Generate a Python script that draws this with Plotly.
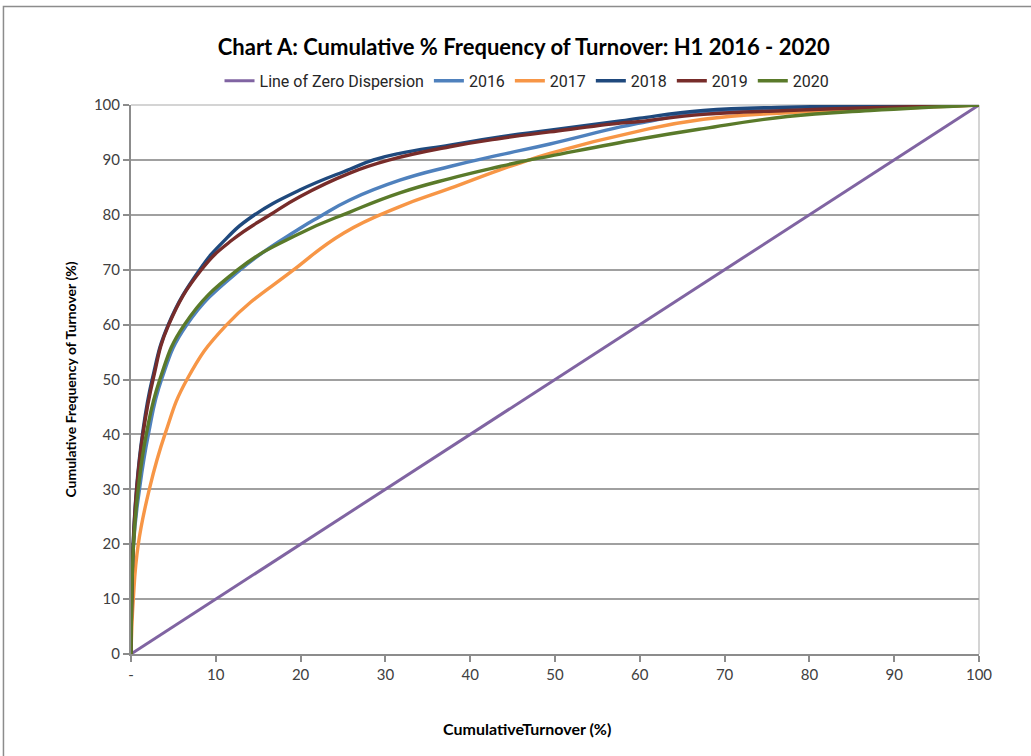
import plotly.graph_objects as go

# Cumulative % of turnover (x) vs cumulative % frequency (y), H1 of each year
zero_x = [0, 10, 20, 30, 40, 50, 60, 70, 80, 90, 100]
zero_y = [0, 10, 20, 30, 40, 50, 60, 70, 80, 90, 100]

x_2016 = [0, 0.3, 1.0, 2.05, 3.6, 6.6, 12.9, 19.9, 22.3, 25.8, 31.7, 37.6, 43.5, 49.4, 57.7, 60, 67.5, 77.4, 87.2, 100]
y_2016 = [0, 20, 30, 40, 50, 60, 70, 77.5, 79.7, 82.7, 86.3, 88.8, 90.9, 92.9, 96.0, 96.7, 98.7, 99.4, 99.7, 100]

x_2017 = [0, 0.27, 0.86, 2.16, 4.0, 6.6, 11.3, 19.2, 25.1, 31.7, 37.6, 43.5, 47, 49.4, 60, 67.5, 77.4, 87.2, 100]
y_2017 = [0, 10, 20, 30, 40, 50, 60, 70, 76.7, 81.5, 84.8, 88.2, 90.0, 91.2, 95.3, 97.4, 98.6, 99.2, 100]

x_2018 = [0, 0.25, 0.65, 1.35, 2.5, 4.4, 8.1, 11.0, 14.2, 19.9, 25.8, 28.6, 31.7, 37.6, 43.5, 49.4, 57.7, 60, 67.5, 77.4, 87.2, 100]
y_2018 = [0, 20, 30, 40, 50, 60, 70, 75.3, 79.6, 84.5, 88.3, 90, 91.2, 92.7, 94.2, 95.4, 97.1, 97.6, 99.0, 99.6, 99.8, 100]

x_2019 = [0, 0.27, 0.67, 1.4, 2.6, 4.45, 8.3, 12.0, 16.4, 19.9, 25.8, 30.5, 37.6, 43.5, 49.4, 57.7, 60, 67.5, 77.4, 87.2, 100]
y_2019 = [0, 20, 30, 40, 50, 60, 70, 75.5, 80, 83.3, 87.6, 90, 92.4, 93.9, 95.1, 96.7, 97.0, 98.3, 99.0, 99.5, 100]

x_2020 = [0, 0.3, 0.85, 1.8, 3.4, 6.3, 12.6, 19.9, 25.8, 31.7, 37.6, 43.5, 47, 49.4, 60, 67.5, 77.4, 87.2, 100]
y_2020 = [0, 20, 30, 40, 50, 60, 70, 76.6, 80.5, 84.0, 86.6, 88.8, 90.0, 90.7, 93.8, 95.7, 97.9, 99.0, 100]

x_ticks = [0, 10, 20, 30, 40, 50, 60, 70, 80, 90, 100]
x_tick_text = ["-", "10", "20", "30", "40", "50", "60", "70", "80", "90", "100"]
y_ticks = [0, 10, 20, 30, 40, 50, 60, 70, 80, 90, 100]

series = [
    ("Line of Zero Dispersion", zero_x, zero_y, "#8064A2", 3.0, "linear"),
    ("2016", x_2016, y_2016, "#4F81BD", 3.4, "spline"),
    ("2017", x_2017, y_2017, "#F79646", 3.4, "spline"),
    ("2018", x_2018, y_2018, "#1F497D", 3.4, "spline"),
    ("2019", x_2019, y_2019, "#772C2A", 3.4, "spline"),
    ("2020", x_2020, y_2020, "#5A7A2A", 3.4, "spline"),
]

fig = go.Figure()
for name, xs, ys, color, width, shape in series:
    line = dict(color=color, width=width, shape=shape)
    if shape == "spline":
        line["smoothing"] = 1.3
    fig.add_trace(go.Scatter(x=xs, y=ys, mode="lines", name=name, line=line))

# Light frame on the top and right of the plot area
fig.add_shape(type="line", xref="paper", yref="paper", x0=0, x1=1, y0=1, y1=1,
              line=dict(color="#D4D4D4", width=2), layer="between")
fig.add_shape(type="line", xref="paper", yref="paper", x0=1, x1=1, y0=0, y1=1,
              line=dict(color="#D4D4D4", width=2), layer="between")

# Outer chart border
fig.add_shape(type="rect", xref="paper", yref="paper",
              x0=-0.1504, x1=1.2, y0=-0.3, y1=1.1794,
              line=dict(color="#8C8C8C", width=1.5), layer="below")

fig.add_annotation(text="<b>CumulativeTurnover (%)</b>", xref="paper", yref="paper",
                   x=0.467, y=-0.135, xanchor="center", yanchor="middle",
                   showarrow=False, font=dict(family="Lato", size=16, color="#000000"))

fig.update_layout(
    width=1031, height=756,
    margin=dict(l=131, r=52, t=105, b=102),
    paper_bgcolor="white", plot_bgcolor="white",
    title=dict(text="<b>Chart A: Cumulative % Frequency of Turnover: H1 2016 - 2020</b>",
               x=0.508, xanchor="center", y=0.938, yanchor="middle",
               font=dict(family="Lato", size=22, color="#000000")),
    legend=dict(orientation="h", x=0.467, xanchor="center", y=1.044, yanchor="middle",
                font=dict(family="Roboto", size=16, color="#262626"),
                itemwidth=30, tracegroupgap=0, bgcolor="rgba(0,0,0,0)"),
    showlegend=True,
    xaxis=dict(range=[0, 100], tickvals=x_ticks, ticktext=x_tick_text,
               showgrid=False, zeroline=False,
               showline=True, linecolor="#8C8C8C", linewidth=2,
               ticks="outside", ticklen=6, tickcolor="#8C8C8C", tickwidth=1.5,
               tickfont=dict(family="Lato", size=15, color="#404040")),
    yaxis=dict(range=[0, 100], tickvals=y_ticks,
               showgrid=True, gridcolor="#A0A0A0", gridwidth=1.6, zeroline=False,
               showline=True, linecolor="#8C8C8C", linewidth=2,
               ticks="outside", ticklen=6, tickcolor="#8C8C8C", tickwidth=1.5,
               tickfont=dict(family="Lato", size=15, color="#404040"),
               title=dict(text="<b>Cumulative Frequency of Turnover (%)</b>",
                          font=dict(family="Lato", size=14, color="#000000"),
                          standoff=14)),
)

fig.write_html("out.html")
